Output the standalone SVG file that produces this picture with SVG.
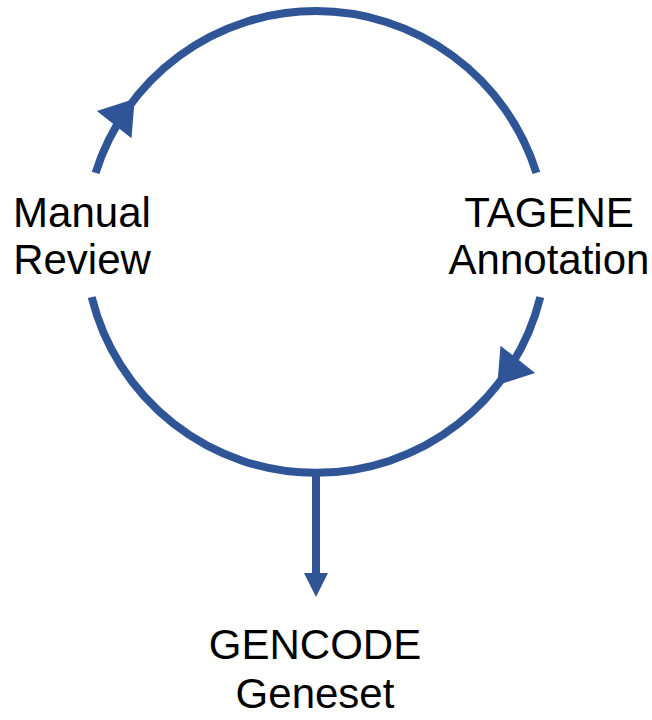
<svg xmlns="http://www.w3.org/2000/svg" width="652" height="720" viewBox="0 0 652 720">
<style>
.arc{fill:none;stroke:#2F5597;stroke-width:8;}
.head{fill:#2F5597;stroke:none;}
.lbl{font-family:"Liberation Sans",Arial,sans-serif;font-size:42px;fill:#000;text-anchor:middle;}
</style>
<rect width="652" height="720" fill="#fff"/>
<g id="connectors">
<path class="arc" d="M95.6,172.9 A231,231 0 0 1 536.4,172.9"/>
<path class="arc" d="M540.3,297.1 A231,231 0 0 1 91.7,297.1"/>
<polygon class="head" points="134.7,98.8 131.5,138.3 96.9,111.1"/>
<polygon class="head" points="497.3,385.2 535.1,372.9 500.5,345.7"/>
<line class="arc" x1="316" y1="473" x2="316" y2="575"/>
<polygon class="head" points="304,573 328,573 316,597"/>
</g>
<g id="manual-review">
<text class="lbl" x="82" y="227">Manual</text>
<text class="lbl" x="82" y="274">Review</text>
</g>
<g id="tagene-annotation">
<text class="lbl" x="549" y="227">TAGENE</text>
<text class="lbl" x="549" y="274">Annotation</text>
</g>
<g id="gencode-geneset">
<text class="lbl" x="315" y="659">GENCODE</text>
<text class="lbl" x="315" y="708">Geneset</text>
</g>
</svg>
